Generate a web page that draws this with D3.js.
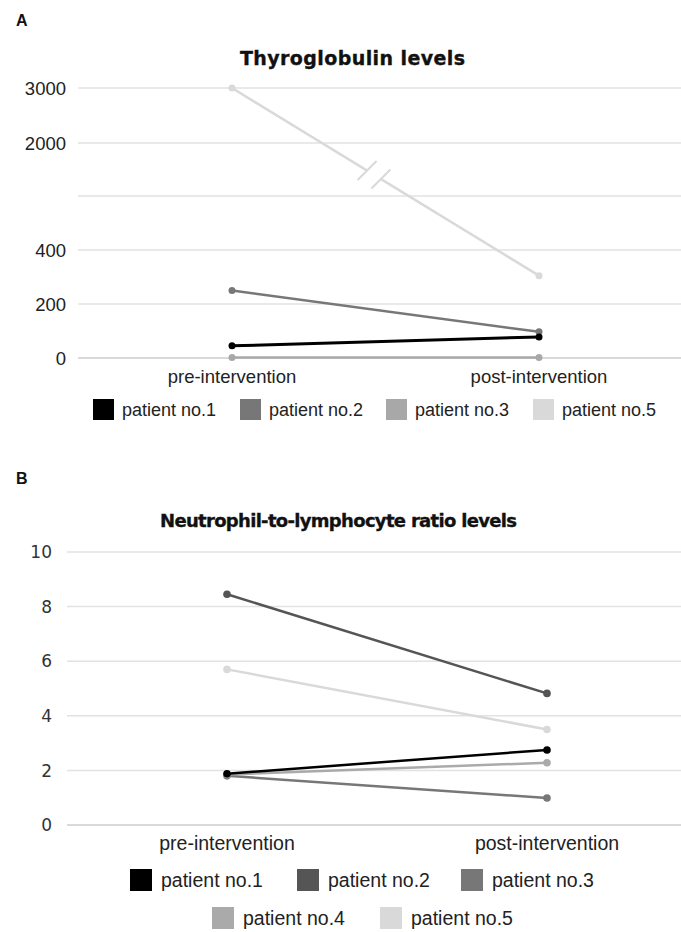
<!DOCTYPE html>
<html>
<head>
<meta charset="utf-8">
<script src="https://cdn.jsdelivr.net/npm/d3@7"></script>
<style>
  body { margin: 0; background: #fff; }
  svg { display: block; }
  .tick-lbl { font-family: "Liberation Sans", Arial, sans-serif; font-size: 18.5px; fill: #222; }
  .tick-lbl-b { font-family: "DejaVu Sans", sans-serif; font-size: 17px; fill: #333; }
  .xlbl-a { font-family: "Liberation Sans", Arial, sans-serif; font-size: 18.5px; fill: #222; }
  .xlbl-b { font-family: "Liberation Sans", Arial, sans-serif; font-size: 19.5px; fill: #222; }
  .title { font-family: "DejaVu Sans", sans-serif; font-weight: 700; fill: #111; stroke: #111; stroke-width: 0.35px; }
  .panel { font-family: "Liberation Sans", Arial, sans-serif; font-weight: 700; font-size: 16px; fill: #111; }
  .leg-a { font-family: "Liberation Sans", Arial, sans-serif; font-size: 18px; fill: #222; }
  .leg-b { font-family: "Liberation Sans", Arial, sans-serif; font-size: 19.5px; fill: #222; }
</style>
</head>
<body>
<svg id="chart" width="681" height="932"></svg>
<script>
// categories
const timepoints = ["pre-intervention", "post-intervention"];

// panel A: thyroglobulin
const tgPatients = ["patient no.1", "patient no.2", "patient no.3", "patient no.5"];
const tgPre  = [45, 250, 2, 3000];
const tgPost = [78, 97, 2, 305];
const tgColors = ["#000000", "#777777", "#a8a8a8", "#d9d9d9"];
const tgTicks = [0, 200, 400, 600, 2000, 3000];
const tgTickLabels = ["0", "200", "400", "", "2000", "3000"];

// panel B: NLR
const nlrPatients = ["patient no.1", "patient no.2", "patient no.3", "patient no.4", "patient no.5"];
const nlrPre  = [1.88, 8.45, 1.8, 1.85, 5.7];
const nlrPost = [2.75, 4.82, 0.99, 2.28, 3.5];
const nlrColors = ["#000000", "#555555", "#777777", "#aaaaaa", "#d9d9d9"];
const nlrTicks = [0, 2, 4, 6, 8, 10];

const svg = d3.select("#chart");

// ---------- Panel A ----------
{
  const x = d3.scalePoint().domain(timepoints).range([232, 539]);
  // broken axis: 0-600 linear, compressed above
  const y = d3.scaleLinear().domain([0, 600, 2000, 3000]).range([358, 196, 143, 88]);

  svg.append("text").attr("class", "panel").attr("x", 16).attr("y", 26).text("A");
  svg.append("text").attr("class", "title").attr("x", 240).attr("y", 65)
    .style("font-size", "19px")
    .attr("textLength", 225).attr("lengthAdjust", "spacing")
    .text("Thyroglobulin levels");

  const g = svg.append("g");
  g.selectAll(".grid").data(tgTicks).join("line")
    .attr("x1", 78).attr("x2", 681)
    .attr("y1", d => y(d)).attr("y2", d => y(d))
    .attr("stroke", (d, i) => i === 0 ? "#cccccc" : "#e2e2e2")
    .attr("stroke-width", 1.5);

  g.selectAll(".ylbl").data(tgTicks).join("text")
    .attr("class", "tick-lbl")
    .attr("x", 66).attr("y", d => y(d)).attr("dy", "0.36em")
    .attr("text-anchor", "end")
    .text((d, i) => tgTickLabels[i]);

  g.selectAll(".xlbl").data(timepoints).join("text")
    .attr("class", "xlbl-a")
    .attr("x", d => x(d)).attr("y", 383)
    .attr("text-anchor", "middle").text(d => d);

  const order = [2, 3, 1, 0];
  order.forEach(i => {
    const pts = [[x(timepoints[0]), y(tgPre[i])], [x(timepoints[1]), y(tgPost[i])]];
    g.append("line")
      .attr("x1", pts[0][0]).attr("y1", pts[0][1])
      .attr("x2", pts[1][0]).attr("y2", pts[1][1])
      .attr("stroke", tgColors[i]).attr("stroke-width", i === 0 ? 3 : 2.5);
    g.selectAll(null).data(pts).join("circle")
      .attr("cx", d => d[0]).attr("cy", d => d[1]).attr("r", 3.5)
      .attr("fill", tgColors[i]);

    if (i === 3) {
      // axis break marks on the patient no.5 line
      const [p0, p1] = pts;
      const at = t => [p0[0] + (p1[0] - p0[0]) * t, p0[1] + (p1[1] - p0[1]) * t];
      const a = at(0.44), b = at(0.485);
      g.append("line").attr("x1", a[0]).attr("y1", a[1]).attr("x2", b[0]).attr("y2", b[1])
        .attr("stroke", "#fff").attr("stroke-width", 4);
      [a, b].forEach(c => {
        g.append("line")
          .attr("x1", c[0] - 9.5).attr("y1", c[1] + 9.5)
          .attr("x2", c[0] + 9.5).attr("y2", c[1] - 9.5)
          .attr("stroke", tgColors[i]).attr("stroke-width", 2);
      });
    }
  });

  const legX = [93, 240, 386, 533];
  const leg = g.selectAll(".leg").data(tgPatients).join("g")
    .attr("transform", (d, i) => `translate(${legX[i]},399)`);
  leg.append("rect").attr("width", 21).attr("height", 21).attr("fill", (d, i) => tgColors[i]);
  leg.append("text").attr("class", "leg-a").attr("x", 29).attr("y", 10.5).attr("dy", "0.36em").text(d => d);
}

// ---------- Panel B ----------
{
  const x = d3.scalePoint().domain(timepoints).range([227, 547]);
  const y = d3.scaleLinear().domain([0, 10]).range([825, 552]);

  svg.append("text").attr("class", "panel").attr("x", 16).attr("y", 484).text("B");
  svg.append("text").attr("class", "title").attr("x", 160).attr("y", 527)
    .style("font-size", "18px")
    .attr("textLength", 357).attr("lengthAdjust", "spacing")
    .text("Neutrophil-to-lymphocyte ratio levels");

  const g = svg.append("g");
  g.selectAll(".grid").data(nlrTicks).join("line")
    .attr("x1", 67).attr("x2", 681)
    .attr("y1", d => y(d)).attr("y2", d => y(d))
    .attr("stroke", (d, i) => i === 0 ? "#cccccc" : "#e2e2e2")
    .attr("stroke-width", 1.5);

  g.selectAll(".ylbl").data(nlrTicks).join("text")
    .attr("class", "tick-lbl-b")
    .attr("x", 52).attr("y", d => y(d)).attr("dy", "0.36em")
    .attr("text-anchor", "end").text(d => d);

  g.selectAll(".xlbl").data(timepoints).join("text")
    .attr("class", "xlbl-b")
    .attr("x", d => x(d)).attr("y", 850)
    .attr("text-anchor", "middle").text(d => d);

  const order = [4, 1, 2, 3, 0];
  order.forEach(i => {
    const pts = [[x(timepoints[0]), y(nlrPre[i])], [x(timepoints[1]), y(nlrPost[i])]];
    g.append("line")
      .attr("x1", pts[0][0]).attr("y1", pts[0][1])
      .attr("x2", pts[1][0]).attr("y2", pts[1][1])
      .attr("stroke", nlrColors[i]).attr("stroke-width", 2.5);
    g.selectAll(null).data(pts).join("circle")
      .attr("cx", d => d[0]).attr("cy", d => d[1]).attr("r", 3.8)
      .attr("fill", nlrColors[i]);
  });

  const legPos = [[130, 869], [297, 869], [461, 869], [212, 907], [380, 907]];
  const leg = g.selectAll(".leg").data(nlrPatients).join("g")
    .attr("transform", (d, i) => `translate(${legPos[i][0]},${legPos[i][1]})`);
  leg.append("rect").attr("width", 22).attr("height", 22).attr("fill", (d, i) => nlrColors[i]);
  leg.append("text").attr("class", "leg-b").attr("x", 31).attr("y", 11).attr("dy", "0.36em").text(d => d);
}
</script>
</body>
</html>
